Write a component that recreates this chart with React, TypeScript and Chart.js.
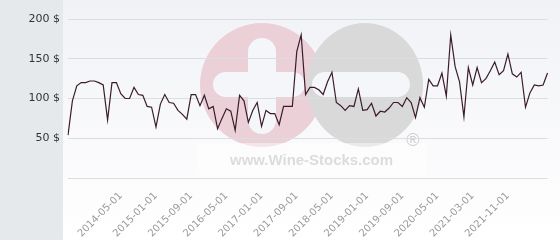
import React, { useEffect, useRef } from 'react';
import { Chart, registerables } from 'chart.js';

Chart.register(...registerables);

const CATEGORIES: string[] = (
  '2013-05-01 2013-06-01 2013-07-01 2013-08-01 2013-09-01 2013-10-01 2013-11-01 2013-12-01 ' +
  '2014-01-01 2014-02-01 2014-03-01 2014-04-01 2014-05-01 2014-06-01 2014-07-01 2014-08-01 2014-09-01 2014-10-01 2014-11-01 2014-12-01 ' +
  '2015-01-01 2015-02-01 2015-03-01 2015-04-01 2015-05-01 2015-06-01 2015-07-01 2015-08-01 2015-09-01 2015-10-01 2015-11-01 2015-12-01 ' +
  '2016-01-01 2016-02-01 2016-03-01 2016-04-01 2016-05-01 2016-06-01 2016-07-01 2016-08-01 2016-09-01 2016-10-01 2016-11-01 2016-12-01 ' +
  '2017-01-01 2017-02-01 2017-03-01 2017-04-01 2017-05-01 2017-06-01 2017-07-01 2017-08-01 2017-09-01 2017-10-01 2017-11-01 2017-12-01 ' +
  '2018-01-01 2018-02-01 2018-03-01 2018-04-01 2018-05-01 2018-06-01 2018-07-01 2018-08-01 2018-09-01 2018-10-01 2018-11-01 2018-12-01 ' +
  '2019-01-01 2019-02-01 2019-03-01 2019-04-01 2019-05-01 2019-06-01 2019-07-01 2019-08-01 2019-09-01 2019-10-01 2019-11-01 2019-12-01 ' +
  '2020-01-01 2020-02-01 2020-03-01 2020-04-01 2020-05-01 2020-06-01 2020-08-01 2020-09-01 2020-10-01 2020-12-01 ' +
  '2021-01-01 2021-02-01 2021-03-01 2021-04-01 2021-05-01 2021-06-01 2021-07-01 2021-08-01 2021-09-01 2021-10-01 2021-11-01 2021-12-01 ' +
  '2022-01-01 2022-02-01 2022-03-01 2022-04-01 2022-05-01 2022-06-01 2022-07-01 2022-08-01'
).split(' ');

const PRICES: number[] = [
  54, 97, 116, 120, 120, 122, 122, 120, 117, 73,
  120, 120, 106, 100, 100, 114, 105, 104, 90, 89,
  64, 93, 105, 95, 94, 85, 80, 74, 105, 105,
  91, 104, 87, 90, 62, 75, 87, 84, 60, 104,
  97, 70, 85, 95, 65, 85, 81, 81, 67, 90,
  90, 90, 159, 180, 105, 114, 114, 111, 105, 121,
  133, 95, 91, 85, 91, 90, 112, 85, 86, 94,
  78, 84, 83, 88, 95, 95, 90, 101, 95, 76,
  101, 89, 124, 116, 116, 132, 103, 180, 140, 121,
  77, 139, 117, 139, 120, 125, 135, 146, 130, 135,
  156, 131, 127, 133, 89, 107, 117, 116, 117, 132,
];

const TICK_LABELS: string[] = [
  '2014-05-01', '2015-01-01', '2015-09-01', '2016-05-01', '2017-01-01', '2017-09-01',
  '2018-05-01', '2019-01-01', '2019-09-01', '2020-05-01', '2021-03-01', '2021-11-01',
];

const Y_MIN = 0;
const Y_MAX = 200;
const Y_STEP = 50;

const backgroundPlugin = {
  id: 'bgPanel',
  beforeDraw(chart: any) {
    const { ctx, width, height, chartArea } = chart;
    ctx.save();
    const g = ctx.createLinearGradient(0, 0, 0, height);
    g.addColorStop(0, '#f1f2f6');
    g.addColorStop(1, '#ffffff');
    ctx.fillStyle = g;
    ctx.fillRect(0, 0, width, height);
    ctx.fillStyle = '#e6e9ec';
    ctx.fillRect(0, 0, chartArea.left - 5, height);

    // watermark
    const rr = (x: number, y: number, w: number, h: number, r: number) => {
      ctx.beginPath();
      ctx.roundRect(x, y, w, h, r);
      ctx.fill();
    };
    ctx.fillStyle = '#ebd0d8';
    ctx.beginPath();
    ctx.ellipse(262, 85, 62, 62, 0, 0, Math.PI * 2);
    ctx.fill();
    ctx.fillStyle = '#d9d9d9';
    ctx.beginPath();
    ctx.ellipse(365, 85, 58, 62, 0, 0, Math.PI * 2);
    ctx.fill();
    ctx.fillStyle = '#f5f6f9';
    rr(248, 38, 28, 96, 14);
    rr(213, 72, 92, 25, 12.5);
    rr(312, 72, 98, 25, 12.5);

    ctx.fillStyle = 'rgba(255,255,255,0.45)';
    ctx.fillRect(197, 143, 230, 32);
    ctx.fillStyle = '#dcdcdc';
    ctx.font = 'bold 15px "Liberation Sans", Arial, sans-serif';
    ctx.textBaseline = 'alphabetic';
    ctx.textAlign = 'left';
    const txt = 'www.Wine-Stocks.com';
    const w = ctx.measureText(txt).width;
    ctx.save();
    ctx.translate(230, 165);
    ctx.scale(163 / w, 1);
    ctx.fillText(txt, 0, 0);
    ctx.restore();
    ctx.fillStyle = '#cfcfcf';
    ctx.font = '18px "Liberation Sans", Arial, sans-serif';
    ctx.textAlign = 'center';
    ctx.textBaseline = 'middle';
    ctx.fillText('\u00ae', 413, 141);
    ctx.restore();
  },
};

export default function App() {
  const ref = useRef<HTMLCanvasElement | null>(null);

  useEffect(() => {
    if (!ref.current) return;
    const chart = new Chart(ref.current, {
      type: 'line',
      data: {
        labels: CATEGORIES,
        datasets: [
          {
            data: PRICES,
            borderColor: '#3a1c2a',
            borderWidth: 1.2,
            pointRadius: 0,
            tension: 0,
            fill: false,
          },
        ],
      },
      options: {
        responsive: false,
        animation: false,
        layout: { padding: { top: 19, right: 5, left: 0, bottom: 0 } },
        plugins: {
          legend: { display: false },
          tooltip: { enabled: false },
        },
        scales: {
          x: {
            grid: { display: false },
            border: { display: false },
            afterFit(scale: any) {
              scale.height = 62;
            },
            ticks: {
              autoSkip: false,
              maxRotation: 45,
              minRotation: 45,
              padding: 4,
              color: '#9a9a9a',
              font: { family: '"DejaVu Sans", sans-serif', size: 10 },
              callback(_v: any, index: number) {
                const l = CATEGORIES[index];
                return TICK_LABELS.includes(l) ? l : '';
              },
            },
          },
          y: {
            min: Y_MIN,
            max: Y_MAX,
            border: { display: false },
            grid: { color: '#dcdde2', drawTicks: false, lineWidth: 1 },
            afterFit(scale: any) {
              scale.width = 68;
            },
            ticks: {
              stepSize: Y_STEP,
              padding: 8,
              color: '#333333',
              font: { family: '"DejaVu Sans", sans-serif', size: 11 },
              callback(v: any) {
                return v === 0 ? '' : v + ' $';
              },
            },
          },
        },
      },
      plugins: [backgroundPlugin],
    });
    return () => chart.destroy();
  }, []);

  return (
    <div style={{ position: 'absolute', left: 0, top: 0, width: 560, height: 240 }}>
      <canvas ref={ref} width={560} height={240} />
    </div>
  );
}
